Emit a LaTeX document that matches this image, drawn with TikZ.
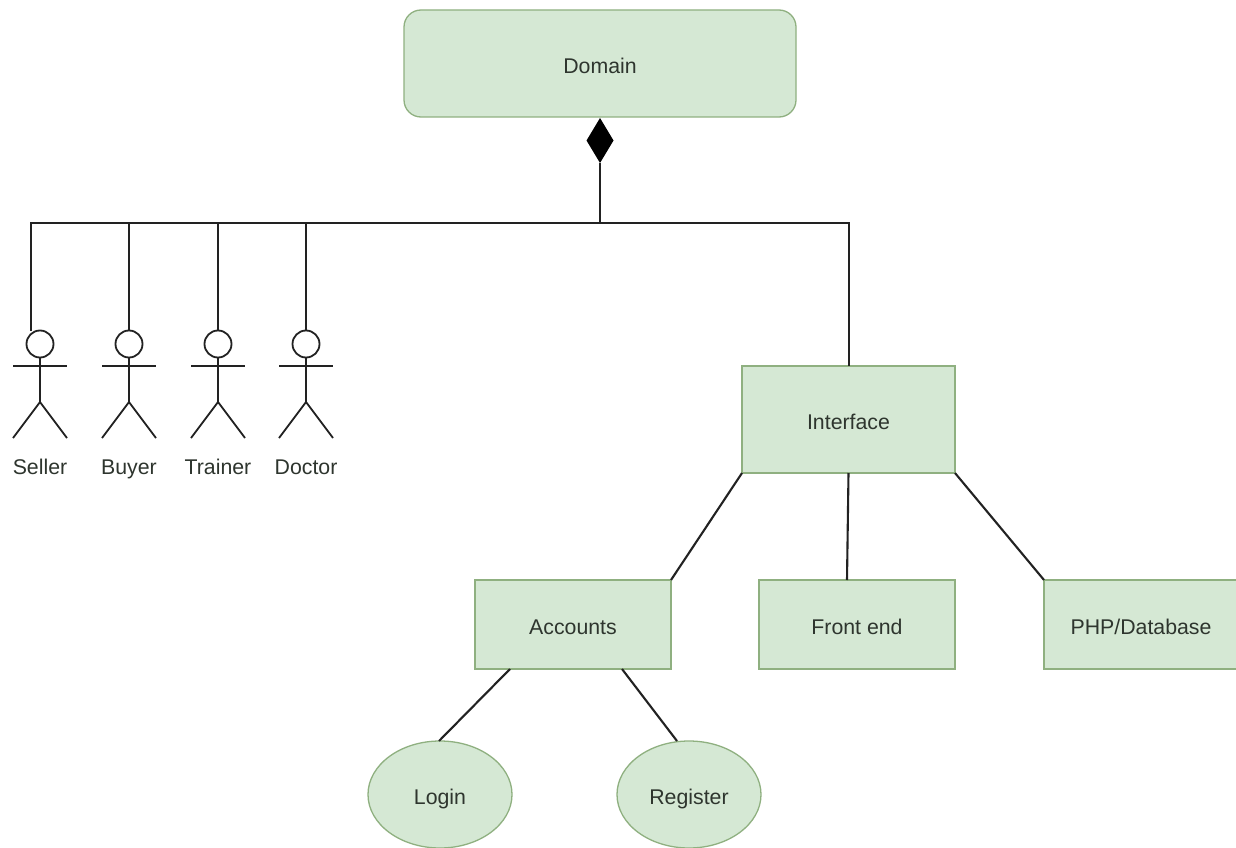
\documentclass[tikz,border=0pt]{standalone}
\usepackage{fontspec}
\setmainfont{Liberation Sans}
\usetikzlibrary{shapes.geometric}
\definecolor{boxfill}{HTML}{D5E8D4}
\definecolor{boxline}{HTML}{8FB080}
\definecolor{inktext}{HTML}{2E352E}
\definecolor{inkline}{HTML}{222222}
\tikzset{
  lbl/.style={font=\fontsize{21.3}{25}\selectfont,text=inktext,text height=19.5pt,text depth=0pt},
  boxbase/.style={draw=boxline,fill=boxfill,line width=1.3pt,inner sep=0pt,outer sep=0pt,lbl},
  rectbox/.style={boxbase,rectangle},
  roundbox/.style={boxbase,rectangle,rounded corners=17pt},
  ovalbox/.style={boxbase,ellipse},
  link/.style={draw=inkline,line width=2.1pt},
  figline/.style={draw=inkline,line width=1.8pt},
  head/.style={circle,draw=inkline,fill=white,line width=1.8pt,minimum size=27pt,inner sep=0pt,outer sep=0pt},
  compo/.style={diamond,fill=black,inner sep=0pt,outer sep=0pt,minimum width=27pt,minimum height=45pt},
  figlabel/.style={lbl,inner sep=0pt}
}
\newcommand{\stickman}[3]{%
  % #1 name, #2 x, #3 label
  \node[head] (#1) at (#2,344) {};
  \coordinate (#1hip) at (#2,402);
  \coordinate (#1la) at (#2-27,366);
  \coordinate (#1ra) at (#2+27,366);
  \coordinate (#1ll) at (#2-27,438);
  \coordinate (#1rl) at (#2+27,438);
  \draw[figline] (#1.south) -- (#1hip);
  \draw[figline] (#1la) -- (#1ra);
  \draw[figline,line join=miter] (#1ll) -- (#1hip) -- (#1rl);
  \node[figlabel] (#1text) at (#2,464.5) {#3};
}
\begin{document}
\begin{tikzpicture}[x=1pt,y=-1pt]
\useasboundingbox[fill=white] (0,0) rectangle (1236,848);
\node[roundbox,minimum width=392pt,minimum height=107pt] (domain) at (600,63.5) {Domain};
\node[compo] (comp) at (600,140.5) {};
\node[rectbox,minimum width=213pt,minimum height=107pt] (interface) at (848.5,419.5) {Interface};
\node[rectbox,minimum width=196pt,minimum height=89pt] (accounts) at (573,624.5) {Accounts};
\node[rectbox,minimum width=196pt,minimum height=89pt] (frontend) at (857,624.5) {Front end};
\node[rectbox,minimum width=196pt,minimum height=89pt] (php) at (1142,624.5) {};
\node[lbl,inner sep=0pt] (phptext) at (1141,624.5) {PHP/Database};
\node[ovalbox,minimum width=144pt,minimum height=107pt] (login) at (440,794.5) {Login};
\node[ovalbox,minimum width=144pt,minimum height=107pt] (register) at (689,794.5) {Register};
\stickman{seller}{40}{Seller}
\stickman{buyer}{129}{Buyer}
\stickman{trainer}{218}{Trainer}
\stickman{doctor}{306}{Doctor}
\coordinate (busl) at (31,223);
\coordinate (busr) at (849,223);
\coordinate (busc) at (600,223);
\coordinate (bus1) at (129,223);
\coordinate (bus2) at (218,223);
\coordinate (bus3) at (306,223);
\coordinate (sellerend) at (31,331);
\draw[link] (sellerend) -- (busl) -- (busr) -- (interface.north -| busr);
\draw[link] (comp.south) -- (busc);
\draw[link] (bus1) -- (buyer.north);
\draw[link] (bus2) -- (trainer.north);
\draw[link] (bus3) -- (doctor.north);
\draw[link] (interface.south west) -- (accounts.north east);
\draw[link] (interface.south) -- ([xshift=-1.5pt]frontend.north -| interface.south);
\draw[link] (interface.south east) -- (php.north west);
\draw[link] ([xshift=35pt]accounts.south west) -- ([xshift=-1pt]login.north);
\draw[link] ([xshift=-49pt]accounts.south east) -- ([xshift=-12pt]register.north);
\end{tikzpicture}
\end{document}
